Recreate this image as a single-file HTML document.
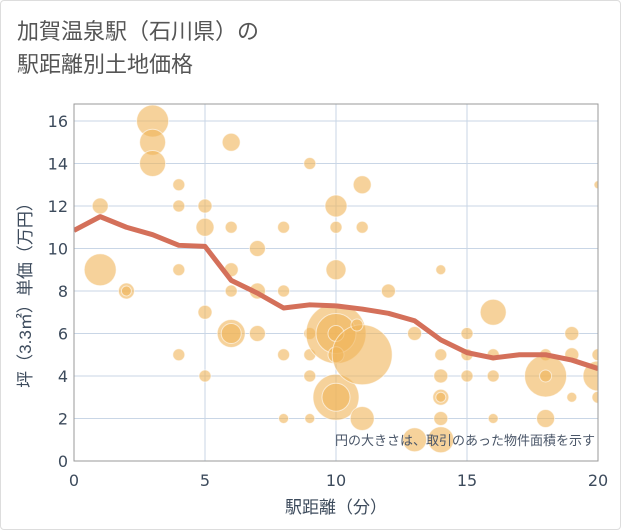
<!DOCTYPE html>
<html><head><meta charset="utf-8"><style>
body{margin:0;background:#fff;}
#card{position:absolute;left:0;top:0;width:619px;height:528px;border:1px solid #ddd;border-radius:4px;background:#fff;font-family:"Liberation Sans","Noto Sans CJK JP",sans-serif;}
#title{position:absolute;left:16px;top:14px;font-size:22px;line-height:33px;color:#555;}
</style></head><body>
<div id="card">
<div id="title">加賀温泉駅（石川県）の<br>駅距離別土地価格</div>
<svg id="chart" width="621" height="530" style="position:absolute;left:0;top:0"></svg>
</div>
<script>
const xTicks=[0,5,10,15,20];
const yTicks=[0,2,4,6,8,10,12,14,16];
const lineX=[0,1,2,3,4,5,6,7,8,9,10,11,12,13,14,15,16,17,18,19,20];
const lineY=[10.85,11.5,11.0,10.65,10.15,10.1,8.5,7.9,7.2,7.35,7.3,7.15,6.95,6.6,5.7,5.1,4.85,5.0,5.0,4.75,4.35];
const bubX=[1,1,2,2,3,3,3,4,4,4,4,5,5,5,5,6,6,6,6,6,6,7,7,7,8,8,8,8,9,9,9,9,9,10,10,10,10,10,10,10,10,10,11,11,11,11,10.8,12,13,13,14,14,14,14,14,14,14,15,15,15,16,16,16,16,18,18,18,18,19,19,19,20,20,20,20];
const bubY=[12,9,8,8,16,15,14,13,12,9,5,12,11,7,4,15,11,9,8,6,6,10,8,6,11,8,5,2,14,6,5,4,2,12,11,9,6,6,6,5,3,3,13,11,5,2,6.4,8,6,1,9,5,4,3,3,2,1,6,5,4,7,5,4,2,5,4,4,2,6,5,3,13,5,4,3];
const bubR=[8,16,8,5,16,13,13,6,6,6,6,7,9,7,6,9,6,7,6,14,10,8,8,8,6,6,6,5,6,6,6,6,5,11,6,10,30,20,8,8,23,14,9,6,30,12,6,7,7,12,5,6,7,8,5,7,13,6,6,6,13,6,6,5,6,21,6,9,7,7,5,4,6,15,6];
const svg=document.getElementById('chart');const NS='http://www.w3.org/2000/svg';
const L=73,R=597,T=103,B=460;
const sx=v=>L+v*(R-L)/20, sy=v=>B-v*(460-120)/16;
function mk(t,a,p){const e=document.createElementNS(NS,t);for(const k in a)e.setAttribute(k,a[k]);(p||svg).appendChild(e);return e;}
const defs=mk('defs',{});const cp=mk('clipPath',{id:'cp'},defs);mk('rect',{x:L,y:T,width:R-L,height:B-T},cp);
xTicks.forEach(v=>{const g=mk('line',{x1:sx(v),x2:sx(v),y1:T,y2:B,stroke:'#c9d6e6','stroke-width':1});

const t=mk('text',{x:sx(v),y:B+25,'text-anchor':'middle','font-size':16,'font-family':'DejaVu Sans, sans-serif',fill:'#3d4b5c'});t.textContent=v;
});
yTicks.forEach(v=>{const g=mk('line',{x1:L,x2:R,y1:sy(v),y2:sy(v),stroke:'#c9d6e6','stroke-width':1});

const t=mk('text',{x:L-6,y:sy(v)+6,'text-anchor':'end','font-size':16,'font-family':'DejaVu Sans, sans-serif',fill:'#3d4b5c'});t.textContent=v;
});
const gb=mk('g',{'clip-path':'url(#cp)'});

bubX.forEach((x,i)=>{const c=mk('circle',{cx:sx(x),cy:sy(bubY[i]),r:bubR[i],fill:'#f0b458','fill-opacity':0.6,stroke:'#fff','stroke-opacity':0.6,'stroke-width':1},gb);
});
const pl=mk('polyline',{points:lineX.map((x,i)=>sx(x)+','+sy(lineY[i])).join(' '),fill:'none',stroke:'#d4705a','stroke-width':5,'stroke-linejoin':'round','clip-path':'url(#cp)'});

const fr=mk('rect',{x:L,y:T,width:R-L,height:B-T,fill:'none',stroke:'#999','stroke-width':1});

const note=mk('text',{x:594,y:444,'text-anchor':'end','font-size':13,fill:'#4a5668'});note.textContent='円の大きさは、取引のあった物件面積を示す';

const xt=mk('text',{x:335,y:512,'text-anchor':'middle','font-size':17,fill:'#3d4b5c'});xt.textContent='駅距離（分）';

const yt=mk('text',{x:0,y:0,'text-anchor':'middle','font-size':17,fill:'#3d4b5c',transform:'translate(30,290) rotate(-90)'});yt.textContent='坪（3.3㎡）単価（万円）';

</script>
</body></html>
